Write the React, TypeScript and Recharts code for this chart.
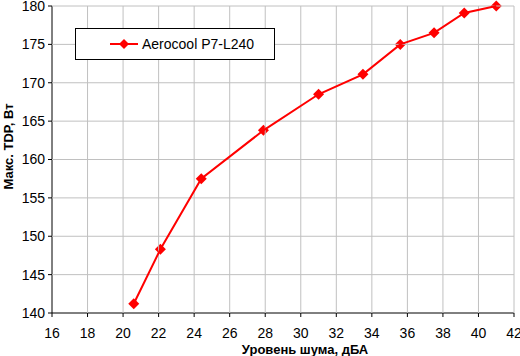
import React from 'react';
import { LineChart, Line, XAxis, YAxis } from 'recharts';

const noiseLevels = [20.6, 22.1, 24.4, 27.9, 31.0, 33.5, 35.6, 37.5, 39.2, 41.0];
const maxTdp = [141.2, 148.3, 157.5, 163.8, 168.5, 171.1, 175.0, 176.5, 179.1, 180.0];
const xTicks = [16, 18, 20, 22, 24, 26, 28, 30, 32, 34, 36, 38, 40, 42];
const yTicks = [140, 145, 150, 155, 160, 165, 170, 175, 180];
const seriesName = 'Aerocool P7-L240';

const data = noiseLevels.map((noise, i) => ({ noise, tdp: maxTdp[i] }));

const FONT = '"Liberation Sans", Arial, sans-serif';
const RED = '#ff0000';
const GRID = '#c0c0c0';

const W = 520;
const H = 356;
const PLOT_W = 462;
const PLOT_H = 307;
const TICK_SIZE = 4;
const X_TICK_MARGIN = 11;
const Y_TICK_MARGIN = 3;

// x tick: label plus the vertical grid line through the plot
const XTick = (props: any) => {
  const { x, y, payload } = props;
  const axisY = y - TICK_SIZE - X_TICK_MARGIN;
  return (
    <g>
      {payload.value !== xTicks[0] && (
        <line x1={x} x2={x} y1={axisY} y2={axisY - PLOT_H} stroke={GRID} strokeWidth={1} />
      )}
      <text x={x} y={y} dy="0.71em" textAnchor="middle" fill="#000" fontSize={14} fontFamily={FONT}>
        {payload.value}
      </text>
    </g>
  );
};

// y tick: label plus the horizontal grid line through the plot
const YTick = (props: any) => {
  const { x, y, payload } = props;
  const axisX = x + TICK_SIZE + Y_TICK_MARGIN;
  return (
    <g>
      {payload.value !== yTicks[0] && (
        <line x1={axisX} x2={axisX + PLOT_W} y1={y} y2={y} stroke={GRID} strokeWidth={1} />
      )}
      <text x={x} y={y} dy="0.355em" textAnchor="end" fill="#000" fontSize={14} fontFamily={FONT}>
        {payload.value}
      </text>
    </g>
  );
};

const Diamond = (props: any) => {
  const { cx, cy } = props;
  if (cx == null || cy == null) return null;
  const r = 5.5;
  return (
    <polygon
      points={`${cx},${cy - r} ${cx + r},${cy} ${cx},${cy + r} ${cx - r},${cy}`}
      fill={RED}
      stroke="none"
    />
  );
};

// legend drawn as an overlay so it takes no room from the plot
const LegendBox = () => (
  <div
    style={{
      position: 'absolute',
      left: 75,
      top: 28,
      width: 198,
      height: 30,
      border: '1px solid #000',
      background: '#fff',
      display: 'flex',
      alignItems: 'center',
      fontFamily: FONT,
      fontSize: 14,
      color: '#000',
    }}
  >
    <svg width={64} height={14} style={{ marginRight: 2 }}>
      <line x1={34} y1={7} x2={62} y2={7} stroke={RED} strokeWidth={2} />
      <polygon points="48,2 53,7 48,12 43,7" fill={RED} />
    </svg>
    <span>{seriesName}</span>
  </div>
);

export default function App() {
  return (
    <div style={{ position: 'absolute', left: 0, top: 0, width: W, height: H, background: '#fff' }}>
      <LineChart
        width={W}
        height={H}
        data={data}
        margin={{ top: 6, right: 6, bottom: 0, left: 0 }}
      >
        <XAxis
          type="number"
          dataKey="noise"
          domain={[16, 42]}
          ticks={xTicks}
          interval={0}
          height={43}
          stroke="#000"
          tickSize={TICK_SIZE}
          tickMargin={X_TICK_MARGIN}
          tick={<XTick />}
          label={{
            value: 'Уровень шума, дБА',
            position: 'insideBottom',
            dx: 22,
            offset: 2,
            style: { fill: '#000', fontSize: 13, fontWeight: 'bold', fontFamily: FONT },
          }}
        />
        <YAxis
          type="number"
          domain={[140, 180]}
          ticks={yTicks}
          interval={0}
          width={52}
          stroke="#000"
          tickSize={TICK_SIZE}
          tickMargin={Y_TICK_MARGIN}
          tick={<YTick />}
          label={{
            value: 'Макс. TDP, Вт',
            angle: -90,
            position: 'insideLeft',
            dx: 8,
            dy: -13,
            offset: 0,
            style: { fill: '#000', fontSize: 13, fontWeight: 'bold', fontFamily: FONT, textAnchor: 'middle' },
          }}
        />
        <Line
          type="linear"
          dataKey="tdp"
          name={seriesName}
          stroke={RED}
          strokeWidth={2}
          dot={<Diamond />}
          activeDot={false}
          isAnimationActive={false}
          {...({ zIndex: 2000 } as any)}
        />
      </LineChart>
      <LegendBox />
    </div>
  );
}
